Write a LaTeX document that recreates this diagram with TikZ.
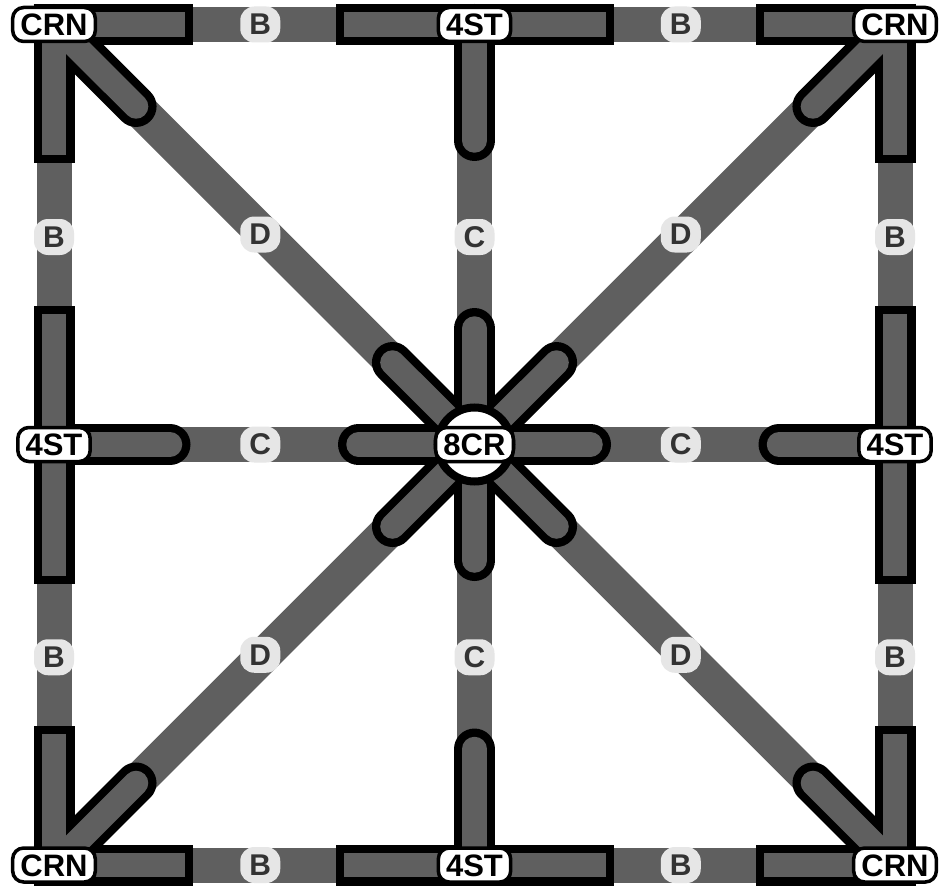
\documentclass[tikz,border=0pt]{standalone}
\usepackage{fontspec}
\setmainfont{Liberation Sans}
\usetikzlibrary{calc}

\begin{document}
\begin{tikzpicture}[
    x=1pt, y=-1pt,
    % --- Styles ---
    track/.style={line width=35pt, draw=trackgray},
    stubrim/.style={line width=41pt, draw=black},
    stubcore/.style={line width=24.5pt, draw=trackgray},
    tag/.style={
        rectangle, rounded corners=11pt, draw=black, line width=3.5pt,
        fill=white, font=\fontsize{31pt}{31pt}\selectfont\bfseries,
        text height=22pt, text depth=0pt, inner xsep=7.75pt, inner ysep=6pt
    },
    kind/.style={
        rectangle, rounded corners=14pt, fill=kindfill, text=kindtext,
        font=\fontsize{30pt}{30pt}\selectfont\bfseries,
        minimum width=40pt, minimum height=36pt, inner sep=0pt, xshift=-4pt
    },
    vkind/.style={kind, xshift=4pt, yshift=-2.5pt},
    hubring/.style={circle, draw=black, line width=8pt, fill=white, minimum size=74pt}
]

    % ── Colour Palette ──────────────────────────────────────────────────
    \definecolor{trackgray}{RGB}{95, 95, 95}
    \definecolor{kindfill}{RGB}{230, 230, 230}
    \definecolor{kindtext}{RGB}{51, 51, 51}

    \fill[white] (0,0) rectangle (948,888);
    \useasboundingbox (0,0) rectangle (948,888);

    % ── GRID POINTS ─────────────────────────────────────────────────────
    \coordinate (nw)  at (54,24.5);
    \coordinate (n)   at (474.5,24.5);
    \coordinate (ne)  at (895,24.5);
    \coordinate (w)   at (54,444.5);
    \coordinate (hub) at (474.5,444.5);
    \coordinate (e)   at (895,444.5);
    \coordinate (sw)  at (54,865);
    \coordinate (s)   at (474.5,865);
    \coordinate (se)  at (895,865);

    % ── TRACKS ──────────────────────────────────────────────────────────

    % Border tracks
    \draw[track] (nw) -- node[kind] {B} (n);
    \draw[track] (n)  -- node[kind] {B} (ne);
    \draw[track] (nw) -- node[vkind] {B} (w);
    \draw[track] (w)  -- node[vkind] {B} (sw);
    \draw[track] (ne) -- node[vkind] {B} (e);
    \draw[track] (e)  -- node[vkind] {B} (se);
    \draw[track] (sw) -- node[kind] {B} (s);
    \draw[track] (s)  -- node[kind] {B} (se);

    % Cross tracks
    \draw[track] (n) -- node[vkind] {C} (hub);
    \draw[track] (w) -- node[kind] {C} (hub);
    \draw[track] (e) -- node[kind] {C} (hub);
    \draw[track] (s) -- node[vkind] {C} (hub);

    % Diagonal tracks
    \draw[track] (nw) -- node[kind] {D} (hub);
    \draw[track] (ne) -- node[kind] {D} (hub);
    \draw[track] (sw) -- node[kind] {D} (hub);
    \draw[track] (se) -- node[kind] {D} (hub);

    % ── STUBS ───────────────────────────────────────────────────────────

    % Rims first
    \foreach \a/\b in {nw/n, nw/w, n/nw, n/ne, ne/n, ne/e, w/nw, w/sw,
                       e/ne, e/se, sw/w, sw/s, s/sw, s/se, se/s, se/e}
        \draw[stubrim] ($(\a)!-20.5pt!(\b)$) -- ($(\a)!139pt!(\b)$);
    \foreach \a/\b in {n/hub, w/hub, e/hub, s/hub, hub/n, hub/w, hub/e, hub/s,
                       nw/hub, ne/hub, sw/hub, se/hub, hub/nw, hub/ne, hub/sw, hub/se}
        \draw[stubrim, line cap=round] (\a) -- ($(\a)!116pt!(\b)$);

    % Then cores
    \foreach \a/\b in {nw/n, nw/w, n/nw, n/ne, ne/n, ne/e, w/nw, w/sw,
                       e/ne, e/se, sw/w, sw/s, s/sw, s/se, se/s, se/e}
        \draw[stubcore] (\a) -- ($(\a)!131pt!(\b)$);
    \foreach \a/\b in {n/hub, w/hub, e/hub, s/hub, hub/n, hub/w, hub/e, hub/s,
                       nw/hub, ne/hub, sw/hub, se/hub, hub/nw, hub/ne, hub/sw, hub/se}
        \draw[stubcore, line cap=round] (\a) -- ($(\a)!116pt!(\b)$);

    % ── STATIONS ────────────────────────────────────────────────────────
    \node[hubring] (hubring) at (hub) {};
    \node[tag] (hubtag) at (hub) {8CR};

    \node[tag] (nwtag) at (nw) {CRN};
    \node[tag] (netag) at (ne) {CRN};
    \node[tag] (swtag) at (sw) {CRN};
    \node[tag] (setag) at (se) {CRN};

    \node[tag] (ntag) at (n) {4ST};
    \node[tag] (wtag) at (w) {4ST};
    \node[tag] (etag) at (e) {4ST};
    \node[tag] (stag) at (s) {4ST};

\end{tikzpicture}
\end{document}
